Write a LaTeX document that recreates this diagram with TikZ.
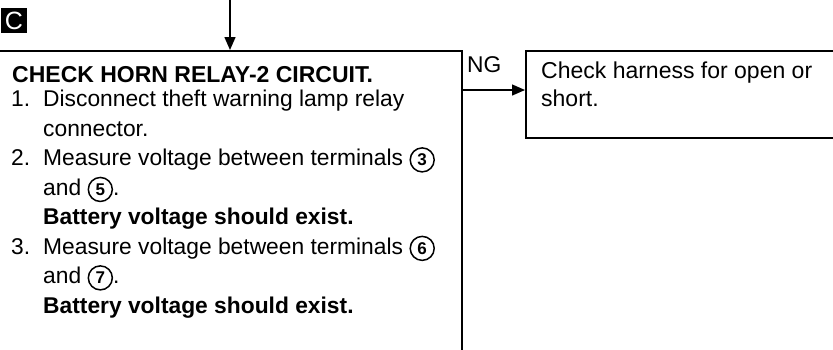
\documentclass[tikz,border=0pt]{standalone}
\usepackage{fontspec}
\setmainfont{Liberation Sans}
\usetikzlibrary{positioning,arrows.meta}
% circled terminal number
\newcommand{\tnum}[1]{\tikz[baseline=(tn.base)]\node[circle,draw,line width=1.5pt,inner sep=0pt,minimum size=24pt,font=\bfseries\fontsize{17}{17}\selectfont] (tn) {#1};}
% step number with hanging indent
\newcommand{\itm}[1]{\makebox[32pt][l]{#1}}

\begin{document}
\begin{tikzpicture}[x=1pt,y=-1pt,every node/.style={font=\fontsize{22.8}{29.5}\selectfont}]
    \tikzstyle{box}=[draw,line width=1.6pt,inner sep=0pt];
    \tikzstyle{arr}=[line width=1.4pt,-{Triangle[length=13pt,width=11pt]}];
    \tikzstyle{txt}=[anchor=north west,align=left,inner sep=0pt];
    \useasboundingbox (0,0) rectangle (833,349);
    % --- tag and incoming arrow ---
    \node[fill=black,text=white,minimum width=26pt,minimum height=25pt,inner sep=0pt,
          font=\fontsize{25}{25}\selectfont] (tagc) at (14,20.5) {C};
    \coordinate (in) at (230,0);
    % --- main check box ---
    \node[box,minimum width=470pt,minimum height=320pt,anchor=north east] (chk) at (463,50) {};
    \node[txt,font=\bfseries\fontsize{23}{29.5}\selectfont] (hd) at (12,66) {CHECK HORN RELAY-2 CIRCUIT.};
    \node[txt] (st) at (11,90)
     {\itm{1.}Disconnect theft warning lamp relay\\
      \itm{}connector.\\
      \itm{2.}Measure voltage between terminals \tnum{3}\\
      \itm{}and \tnum{5}.\\
      \itm{}\textbf{Battery voltage should exist.}\\
      \itm{3.}Measure voltage between terminals \tnum{6}\\
      \itm{}and \tnum{7}.\\
      \itm{}\textbf{Battery voltage should exist.}};
    \draw[arr] (in) -- (in |- chk.north);
    % --- NG branch ---
    \node[box,minimum width=320pt,minimum height=87pt,anchor=north west] (harn) at (525,50) {};
    \node[txt,font=\fontsize{23}{28}\selectfont] (hs) at (541,62) {Check harness for open or\\short.};
    \coordinate (ng) at (463,90);
    \node[anchor=base west,inner sep=0pt] (ngl) at (467,72) {NG};
    \draw[arr] (ng) -- (ng -| harn.west);
  \end{tikzpicture}
\end{document}
